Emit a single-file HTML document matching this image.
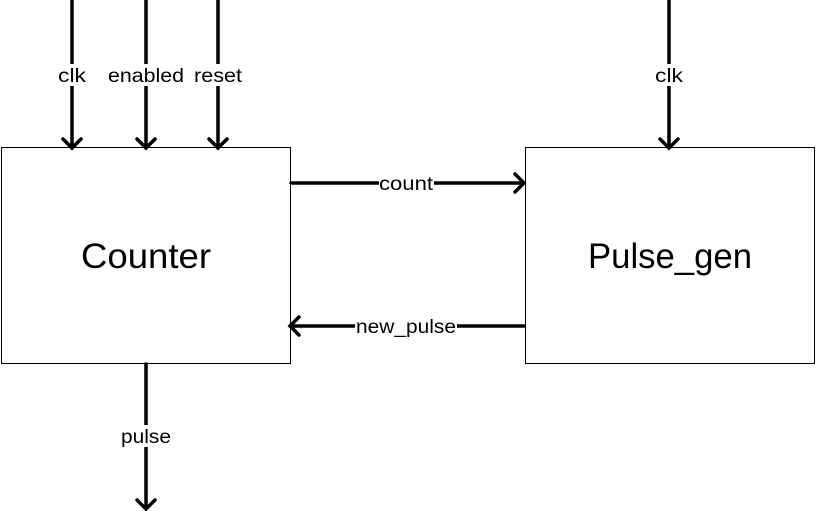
<!DOCTYPE html>
<html><head><style>body{margin:0;background:#fff}svg{display:block}text{font-family:"Liberation Sans",sans-serif;fill:#000}</style></head>
<body>
<svg width="816" height="511" viewBox="0 0 816 511" xmlns="http://www.w3.org/2000/svg">
<rect x="1.5" y="147.5" width="289" height="216" fill="#fff" stroke="#000" stroke-width="1"/>
<rect x="525.5" y="147.5" width="289" height="216" fill="#fff" stroke="#000" stroke-width="1"/>
<g stroke="#000" stroke-width="3.5" fill="none" stroke-linecap="round" stroke-linejoin="miter">
<line x1="72" y1="0" x2="72" y2="146"/><polyline points="63,139 72,148 81,139"/>
<line x1="146" y1="0" x2="146" y2="146"/><polyline points="137,139 146,148 155,139"/>
<line x1="218" y1="0" x2="218" y2="146"/><polyline points="209,139 218,148 227,139"/>
<line x1="669" y1="0" x2="669" y2="146"/><polyline points="660,139 669,148 678,139"/>
<line x1="291" y1="183" x2="522" y2="183"/><polyline points="515,174 524,183 515,192"/>
<line x1="524" y1="326" x2="292" y2="326"/><polyline points="299,317 290,326 299,335"/>
<line x1="146" y1="364" x2="146" y2="507"/><polyline points="137,500 146,509 155,500"/>
</g>
<g fill="#fff">
<rect x="59" y="64" width="27" height="22"/><rect x="107" y="64" width="78" height="22"/><rect x="193" y="64" width="50" height="22"/>
<rect x="656" y="64" width="27" height="22"/><rect x="379" y="172" width="55" height="22"/><rect x="355" y="315" width="102" height="22"/>
<rect x="120" y="425" width="52" height="22"/>
</g>
<g font-size="19" text-anchor="middle" textLength="">
<text x="72" y="82" textLength="28" lengthAdjust="spacingAndGlyphs">clk</text>
<text x="146" y="82" textLength="76" lengthAdjust="spacingAndGlyphs">enabled</text>
<text x="218" y="82" textLength="48" lengthAdjust="spacingAndGlyphs">reset</text>
<text x="669" y="82" textLength="28" lengthAdjust="spacingAndGlyphs">clk</text>
<text x="406" y="190" textLength="54" lengthAdjust="spacingAndGlyphs">count</text>
<text x="406" y="333" textLength="100" lengthAdjust="spacingAndGlyphs">new_pulse</text>
<text x="146" y="443" textLength="50" lengthAdjust="spacingAndGlyphs">pulse</text>
</g>
<text x="146" y="268" font-size="35" text-anchor="middle" textLength="130" lengthAdjust="spacingAndGlyphs">Counter</text>
<text x="670" y="268" font-size="35" text-anchor="middle" textLength="164" lengthAdjust="spacingAndGlyphs">Pulse_gen</text>
</svg>
</body></html>
